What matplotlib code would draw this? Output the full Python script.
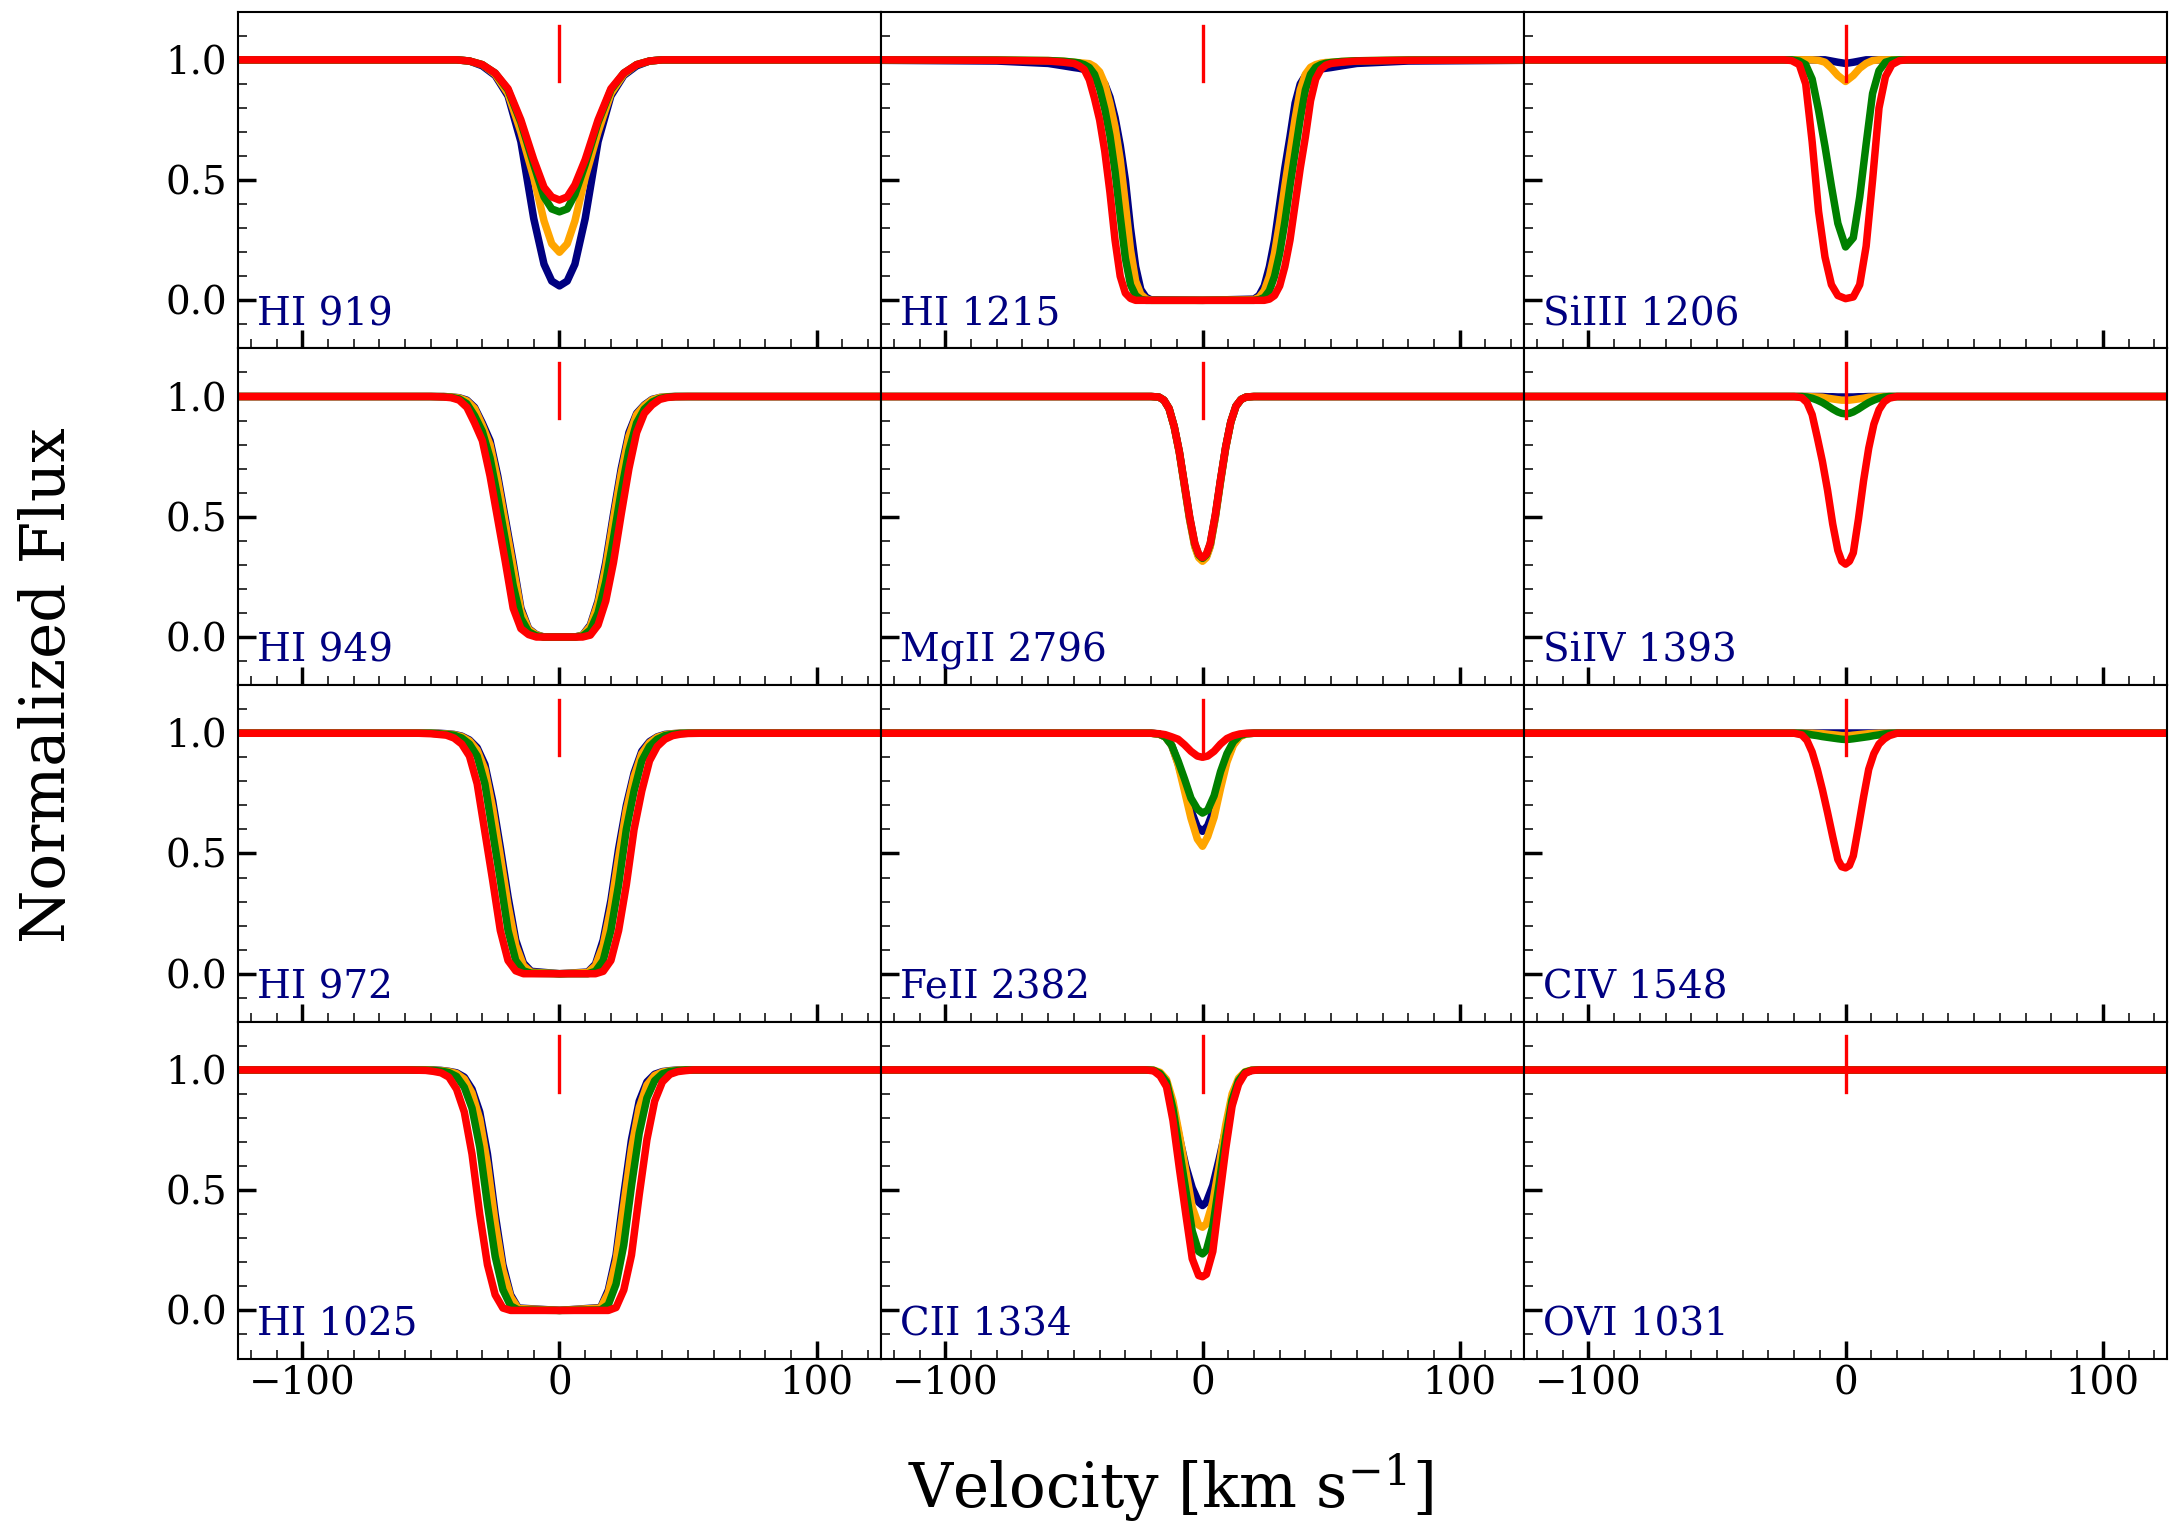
"""Absorption-line velocity stack: 12 transitions, four model curves each."""

import matplotlib
matplotlib.use('Agg')
import matplotlib.pyplot as plt
from matplotlib.ticker import MultipleLocator

plt.rcParams['font.family'] = 'DejaVu Serif'
plt.rcParams['mathtext.fontset'] = 'dejavuserif'

# ── Line profiles (velocity in km/s, normalized flux) ────
# curve order in every panel: navy, orange, green, red (red drawn on top)

v_hi919 = [-125, -40, -35, -30, -25, -20, -15, -10, -6, -3, 0, 3, 6, 10, 15, 20, 25, 30, 35, 40, 125]
hi919_navy   = [1, 1, 0.995, 0.975, 0.935, 0.85, 0.66, 0.34, 0.15, 0.08, 0.06, 0.08, 0.15, 0.34, 0.66, 0.85, 0.935, 0.975, 0.995, 1, 1]
hi919_orange = [1, 1, 0.995, 0.98, 0.94, 0.86, 0.70, 0.51, 0.33, 0.235, 0.20, 0.235, 0.33, 0.51, 0.70, 0.86, 0.94, 0.98, 0.995, 1, 1]
hi919_green  = [1, 1, 0.995, 0.98, 0.945, 0.875, 0.74, 0.565, 0.43, 0.38, 0.368, 0.38, 0.44, 0.565, 0.74, 0.875, 0.945, 0.98, 0.995, 1, 1]
hi919_red    = [1, 1, 0.995, 0.98, 0.945, 0.88, 0.75, 0.585, 0.47, 0.43, 0.417, 0.43, 0.48, 0.585, 0.75, 0.88, 0.945, 0.98, 0.995, 1, 1]

v_hi1215 = [-125, -80, -60, -54, -50, -48, -46, -44, -42, -40, -38, -36, -34, -32, -30, -28, -26, -24, -22, -20, 0,
            20, 22, 24, 26, 28, 30, 32, 34, 36, 38, 40, 42, 44, 46, 48, 50, 54, 60, 80, 125]
hi1215_navy   = [0.998, 0.995, 0.985, 0.975, 0.968, 0.965, 0.96, 0.95, 0.94, 0.925, 0.90, 0.845, 0.76, 0.645, 0.50, 0.30, 0.14, 0.045, 0.013, 0.002, 0,
                 0.005, 0.02, 0.06, 0.14, 0.25, 0.40, 0.55, 0.68, 0.82, 0.90, 0.935, 0.95, 0.958, 0.962, 0.965, 0.968, 0.975, 0.985, 0.995, 0.998]
hi1215_orange = [1, 0.999, 0.997, 0.994, 0.99, 0.988, 0.986, 0.984, 0.972, 0.95, 0.90, 0.82, 0.72, 0.585, 0.40, 0.21, 0.08, 0.025, 0.006, 0, 0,
                 0.003, 0.012, 0.04, 0.10, 0.195, 0.325, 0.475, 0.615, 0.755, 0.875, 0.94, 0.969, 0.98, 0.986, 0.989, 0.99, 0.993, 0.996, 0.999, 1]
hi1215_green  = [1, 0.999, 0.997, 0.994, 0.99, 0.987, 0.98, 0.968, 0.94, 0.88, 0.795, 0.685, 0.535, 0.35, 0.175, 0.065, 0.02, 0.004, 0, 0, 0,
                 0, 0.003, 0.012, 0.04, 0.10, 0.195, 0.325, 0.475, 0.615, 0.755, 0.875, 0.94, 0.969, 0.98, 0.986, 0.989, 0.993, 0.996, 0.999, 1]
hi1215_red    = [1, 0.998, 0.995, 0.99, 0.985, 0.975, 0.96, 0.917, 0.84, 0.75, 0.62, 0.45, 0.25, 0.10, 0.03, 0.008, 0, 0, 0, 0, 0,
                 0, 0, 0, 0.005, 0.02, 0.06, 0.14, 0.25, 0.40, 0.55, 0.68, 0.83, 0.92, 0.96, 0.978, 0.985, 0.99, 0.995, 0.998, 1]

v_si3 = [-125, -24, -21, -18, -15.5, -13, -10.5, -8, -5.5, -3, 0, 3, 5.5, 8, 10.5, 13, 15.5, 18, 21, 24, 125]
si3_navy   = [1, 1, 1, 1, 1, 1, 1, 1, 0.995, 0.99, 0.985, 0.99, 0.995, 1, 1, 1, 1, 1, 1, 1, 1]
si3_orange = [1, 1, 1, 1, 1, 1, 0.998, 0.99, 0.965, 0.935, 0.91, 0.935, 0.965, 0.985, 0.997, 1, 1, 1, 1, 1, 1]
si3_green  = [1, 1, 1, 0.995, 0.98, 0.92, 0.79, 0.64, 0.475, 0.32, 0.222, 0.26, 0.43, 0.65, 0.86, 0.955, 0.99, 0.998, 1, 1, 1]
si3_red    = [1, 1, 0.997, 0.98, 0.90, 0.66, 0.37, 0.18, 0.065, 0.02, 0.007, 0.014, 0.065, 0.225, 0.50, 0.80, 0.93, 0.98, 0.997, 1, 1]

v_hi949 = [-125, -50, -45, -42, -39, -36, -33, -30, -27, -24, -21, -18, -15, -12, -9, -6, 0,
           6, 9, 12, 15, 18, 21, 24, 27, 30, 33, 36, 39, 42, 45, 50, 125]
hi949_navy   = [1, 1, 1, 0.998, 0.995, 0.985, 0.955, 0.89, 0.817, 0.67, 0.49, 0.31, 0.12, 0.035, 0.01, 0, 0,
                0, 0.008, 0.05, 0.15, 0.31, 0.51, 0.70, 0.85, 0.93, 0.965, 0.988, 0.996, 0.999, 1, 1, 1]
hi949_orange = [1, 1, 1, 0.998, 0.994, 0.982, 0.95, 0.88, 0.80, 0.65, 0.47, 0.29, 0.11, 0.032, 0.009, 0, 0,
                0, 0.007, 0.045, 0.14, 0.29, 0.49, 0.68, 0.835, 0.925, 0.962, 0.986, 0.996, 0.999, 1, 1, 1]
hi949_green  = [1, 1, 0.999, 0.9965, 0.99, 0.97, 0.92, 0.855, 0.745, 0.58, 0.40, 0.215, 0.078, 0.022, 0.005, 0, 0,
                0, 0.004, 0.029, 0.10, 0.23, 0.41, 0.605, 0.775, 0.89, 0.948, 0.977, 0.992, 0.998, 1, 1, 1]
hi949_red    = [1, 1, 0.998, 0.995, 0.985, 0.955, 0.89, 0.817, 0.67, 0.49, 0.31, 0.12, 0.035, 0.01, 0, 0, 0,
                0, 0, 0.008, 0.05, 0.15, 0.31, 0.51, 0.70, 0.85, 0.93, 0.965, 0.988, 0.996, 0.999, 1, 1]

v_mg2 = [-125, -20, -17, -15, -13, -11, -9, -7, -5, -3, -1.5, 0, 1.5, 3, 5, 7, 9, 11, 13, 15, 17, 20, 125]
mg2_navy   = [1, 1, 0.998, 0.985, 0.95, 0.874, 0.767, 0.628, 0.49, 0.38, 0.335, 0.32, 0.335, 0.38, 0.50, 0.648, 0.787, 0.894, 0.96, 0.988, 0.998, 1, 1]
mg2_orange = [1, 1, 0.998, 0.985, 0.95, 0.873, 0.765, 0.625, 0.487, 0.375, 0.33, 0.315, 0.33, 0.376, 0.497, 0.645, 0.785, 0.893, 0.96, 0.988, 0.998, 1, 1]
mg2_green  = [1, 1, 0.998, 0.985, 0.95, 0.875, 0.77, 0.633, 0.497, 0.387, 0.342, 0.327, 0.342, 0.387, 0.507, 0.653, 0.79, 0.895, 0.96, 0.988, 0.998, 1, 1]
mg2_red    = [1, 1, 0.998, 0.985, 0.95, 0.875, 0.77, 0.635, 0.50, 0.39, 0.345, 0.33, 0.345, 0.39, 0.51, 0.655, 0.79, 0.895, 0.96, 0.988, 0.998, 1, 1]

v_si4 = [-125, -20, -17, -15, -13, -11, -9, -7, -5, -3, -1.5, 0, 1.5, 3, 5, 7, 9, 11, 13, 15, 17, 20, 125]
si4_navy   = [1, 1, 1, 1, 1, 1, 1, 0.999, 0.999, 0.998, 0.998, 0.998, 0.998, 0.998, 0.999, 0.999, 1, 1, 1, 1, 1, 1, 1]
si4_orange = [1, 1, 1, 1, 0.999, 0.998, 0.997, 0.993, 0.99, 0.987, 0.985, 0.985, 0.985, 0.987, 0.99, 0.993, 0.997, 0.998, 0.999, 1, 1, 1, 1]
si4_green  = [1, 1, 1, 0.998, 0.993, 0.985, 0.975, 0.962, 0.948, 0.936, 0.93, 0.928, 0.93, 0.936, 0.948, 0.962, 0.975, 0.985, 0.993, 0.998, 1, 1, 1]
si4_red    = [1, 1, 0.995, 0.975, 0.925, 0.83, 0.73, 0.61, 0.47, 0.36, 0.315, 0.303, 0.315, 0.35, 0.49, 0.65, 0.785, 0.885, 0.945, 0.978, 0.993, 1, 1]

v_hi972 = [-125, -55, -50, -47, -44, -41, -38, -35, -32, -29, -26, -23, -20, -17, -14, -11, 0,
           11, 14, 17, 20, 23, 26, 29, 32, 35, 38, 41, 44, 47, 50, 55, 125]
hi972_navy   = [1, 1, 1, 1, 0.998, 0.995, 0.988, 0.972, 0.94, 0.87, 0.72, 0.525, 0.32, 0.14, 0.044, 0.01, 0,
                0.007, 0.04, 0.14, 0.305, 0.52, 0.70, 0.835, 0.925, 0.965, 0.985, 0.995, 0.998, 1, 1, 1, 1]
hi972_orange = [1, 1, 1, 0.999, 0.997, 0.994, 0.986, 0.968, 0.93, 0.85, 0.69, 0.49, 0.285, 0.118, 0.034, 0.006, 0,
                0.005, 0.033, 0.118, 0.275, 0.485, 0.68, 0.82, 0.915, 0.96, 0.983, 0.993, 0.998, 1, 1, 1, 1]
hi972_green  = [1, 1, 1, 0.998, 0.995, 0.992, 0.98, 0.955, 0.905, 0.79, 0.59, 0.39, 0.18, 0.055, 0.012, 0.002, 0,
                0, 0.01, 0.055, 0.18, 0.37, 0.60, 0.76, 0.885, 0.945, 0.975, 0.99, 0.996, 0.999, 1, 1, 1]
hi972_red    = [1, 1, 0.998, 0.995, 0.992, 0.98, 0.955, 0.905, 0.79, 0.59, 0.39, 0.18, 0.055, 0.012, 0, 0, 0,
                0, 0, 0.01, 0.055, 0.18, 0.37, 0.60, 0.76, 0.885, 0.945, 0.975, 0.99, 0.996, 0.999, 1, 1]

v_fe2 = [-125, -20, -17, -14.5, -12, -9.5, -7, -4.5, -2, 0, 2, 4.5, 7, 9.5, 12, 14.5, 17, 20, 125]
fe2_navy   = [1, 1, 0.997, 0.985, 0.95, 0.875, 0.78, 0.68, 0.61, 0.592, 0.615, 0.685, 0.79, 0.89, 0.955, 0.988, 0.998, 1, 1]
fe2_orange = [1, 1, 0.996, 0.985, 0.95, 0.87, 0.76, 0.647, 0.56, 0.53, 0.57, 0.65, 0.77, 0.88, 0.95, 0.985, 0.997, 1, 1]
fe2_green  = [1, 1, 0.997, 0.985, 0.95, 0.885, 0.81, 0.73, 0.685, 0.668, 0.68, 0.74, 0.84, 0.915, 0.965, 0.99, 0.998, 1, 1]
fe2_red    = [1, 1, 0.998, 0.994, 0.985, 0.975, 0.952, 0.925, 0.905, 0.90, 0.905, 0.925, 0.955, 0.978, 0.99, 0.997, 1, 1, 1]

v_c4 = [-125, -20, -17, -15, -13, -11, -9, -7, -5, -3, -1.5, 0, 1.5, 3, 5, 7, 9, 11, 13, 15, 17, 20, 125]
c4_navy   = [1] * 23
c4_orange = [1, 1, 1, 1, 1, 0.999, 0.998, 0.996, 0.994, 0.992, 0.99, 0.99, 0.99, 0.992, 0.994, 0.996, 0.998, 0.999, 1, 1, 1, 1, 1]
c4_green  = [1, 1, 0.999, 0.997, 0.993, 0.99, 0.986, 0.983, 0.98, 0.977, 0.975, 0.974, 0.975, 0.977, 0.98, 0.983, 0.986, 0.99, 0.993, 0.997, 0.999, 1, 1]
c4_red    = [1, 1, 0.993, 0.97, 0.922, 0.85, 0.765, 0.67, 0.57, 0.475, 0.445, 0.44, 0.45, 0.49, 0.61, 0.735, 0.85, 0.915, 0.955, 0.976, 0.99, 1, 1]

v_hi1025 = [-125, -60, -52, -49, -46, -43, -40, -37, -34, -31, -28, -25, -22, -19, -16, 0,
            16, 19, 22, 25, 28, 31, 34, 37, 40, 43, 46, 49, 52, 60, 125]
hi1025_navy   = [1, 1, 1, 1, 0.998, 0.994, 0.988, 0.97, 0.92, 0.825, 0.65, 0.40, 0.19, 0.065, 0.01, 0,
                 0.012, 0.085, 0.23, 0.48, 0.71, 0.87, 0.95, 0.982, 0.993, 0.997, 1, 1, 1, 1, 1]
hi1025_orange = [1, 1, 1, 0.999, 0.997, 0.993, 0.985, 0.962, 0.904, 0.796, 0.608, 0.365, 0.169, 0.056, 0.008, 0,
                 0.01, 0.073, 0.206, 0.438, 0.672, 0.843, 0.937, 0.977, 0.991, 0.996, 0.999, 1, 1, 1, 1]
hi1025_green  = [1, 1, 0.999, 0.998, 0.995, 0.989, 0.973, 0.928, 0.841, 0.679, 0.44, 0.225, 0.086, 0.019, 0.002, 0,
                 0.002, 0.024, 0.109, 0.272, 0.518, 0.737, 0.883, 0.955, 0.984, 0.994, 0.997, 1, 1, 1, 1]
hi1025_red    = [1, 1, 0.998, 0.994, 0.988, 0.97, 0.92, 0.825, 0.65, 0.40, 0.19, 0.065, 0.01, 0, 0, 0,
                 0, 0, 0.012, 0.085, 0.23, 0.48, 0.71, 0.87, 0.95, 0.982, 0.993, 0.997, 1, 1, 1]

v_c2 = [-125, -22, -19, -16.5, -14, -11.5, -9, -6.5, -4, -1.5, 0, 1.5, 4, 6.5, 9, 11.5, 14, 16.5, 19, 22, 125]
c2_navy   = [1, 1, 0.998, 0.985, 0.945, 0.85, 0.72, 0.60, 0.51, 0.45, 0.436, 0.45, 0.52, 0.63, 0.75, 0.86, 0.95, 0.988, 0.998, 1, 1]
c2_orange = [1, 1, 0.999, 0.99, 0.96, 0.87, 0.73, 0.58, 0.43, 0.355, 0.346, 0.36, 0.45, 0.60, 0.77, 0.90, 0.965, 0.992, 0.999, 1, 1]
c2_green  = [1, 1, 0.998, 0.985, 0.95, 0.84, 0.67, 0.50, 0.33, 0.245, 0.235, 0.25, 0.35, 0.53, 0.72, 0.875, 0.955, 0.99, 0.998, 1, 1]
c2_red    = [1, 1, 0.996, 0.975, 0.93, 0.79, 0.59, 0.40, 0.215, 0.145, 0.14, 0.15, 0.245, 0.46, 0.67, 0.85, 0.94, 0.985, 0.997, 1, 1]

v_o6 = [-125, 125]
o6_navy   = [1, 1]
o6_orange = [1, 1]
o6_green  = [1, 1]
o6_red    = [1, 1]

LABELS = ['HI 919', 'HI 1215', 'SiIII 1206',
          'HI 949', 'MgII 2796', 'SiIV 1393',
          'HI 972', 'FeII 2382', 'CIV 1548',
          'HI 1025', 'CII 1334', 'OVI 1031']
VELS = [v_hi919, v_hi1215, v_si3,
        v_hi949, v_mg2, v_si4,
        v_hi972, v_fe2, v_c4,
        v_hi1025, v_c2, v_o6]
FLUXES = [
    [hi919_navy, hi919_orange, hi919_green, hi919_red],
    [hi1215_navy, hi1215_orange, hi1215_green, hi1215_red],
    [si3_navy, si3_orange, si3_green, si3_red],
    [hi949_navy, hi949_orange, hi949_green, hi949_red],
    [mg2_navy, mg2_orange, mg2_green, mg2_red],
    [si4_navy, si4_orange, si4_green, si4_red],
    [hi972_navy, hi972_orange, hi972_green, hi972_red],
    [fe2_navy, fe2_orange, fe2_green, fe2_red],
    [c4_navy, c4_orange, c4_green, c4_red],
    [hi1025_navy, hi1025_orange, hi1025_green, hi1025_red],
    [c2_navy, c2_orange, c2_green, c2_red],
    [o6_navy, o6_orange, o6_green, o6_red],
]
COLORS = ['navy', 'orange', 'green', 'red']


def main():
    fig, axes = plt.subplots(4, 3, figsize=(21.71, 15.23), dpi=100,
                             sharex=True, sharey=True)
    fig.subplots_adjust(left=0.1096, right=0.9982, top=0.9923, bottom=0.108,
                        wspace=0, hspace=0)

    for ax, label, v, fluxes in zip(axes.flat, LABELS, VELS, FLUXES):
        for flux, c in zip(fluxes, COLORS):
            ax.plot(v, flux, color=c, lw=5.4)
        ax.plot([0, 0], [0.91, 1.14], color='red', lw=2.4)   # line centre marker
        ax.text(0.03, 0.069, label, transform=ax.transAxes, color='navy',
                fontsize=28, va='baseline', ha='left')

        ax.set_xlim(-125, 125)
        ax.set_ylim(-0.2, 1.2)
        ax.xaxis.set_major_locator(MultipleLocator(100))
        ax.xaxis.set_minor_locator(MultipleLocator(10))
        ax.yaxis.set_major_locator(MultipleLocator(0.5))
        ax.yaxis.set_minor_locator(MultipleLocator(0.1))
        ax.tick_params(which='both', direction='in', top=False, right=False,
                       labelsize=28)
        ax.tick_params(which='major', length=13, width=2.5)
        ax.tick_params(which='minor', length=6.5, width=1.1)
        ax.tick_params(axis='x', which='major', pad=5)
        ax.tick_params(axis='y', which='major', pad=8)
        for sp in ax.spines.values():
            sp.set_linewidth(1.5)

    fig.text(0.022, 0.55, 'Normalized Flux', rotation=90, fontsize=44,
             ha='center', va='center')
    fig.text(0.539, 0.0099, r'Velocity [km s$^{-1}$]', fontsize=44,
             ha='center', va='baseline')

    fig.savefig('out.png', dpi=100)
    plt.close(fig)


if __name__ == "__main__":
    main()
